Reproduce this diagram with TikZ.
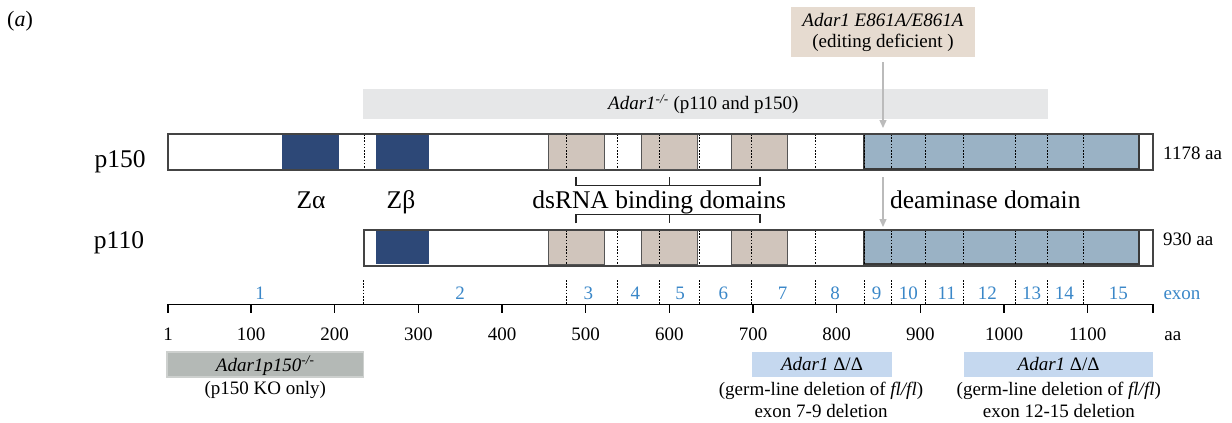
\documentclass[tikz,border=0pt]{standalone}
\usepackage{fontspec}
\setmainfont{Liberation Serif}
\usetikzlibrary{arrows.meta}
\definecolor{zblue}{HTML}{2D4877}
\definecolor{dsfill}{HTML}{D0C5BC}
\definecolor{dsline}{HTML}{555555}
\definecolor{deamfill}{HTML}{9AB2C5}
\definecolor{deamline}{HTML}{3A3A3A}
\definecolor{barline}{HTML}{444444}
\definecolor{topbeige}{HTML}{E6DBD0}
\definecolor{bandgray}{HTML}{E6E7E8}
\definecolor{kogray}{HTML}{B4B9B6}
\definecolor{kograyline}{HTML}{CDD0CE}
\definecolor{delblue}{HTML}{C5D8EF}
\definecolor{exonblue}{HTML}{3A87C8}
\definecolor{arrowgray}{HTML}{BBBBBB}
\tikzset{
  small/.style={font=\fontsize{19}{20.5}\selectfont, inner sep=0pt},
  big/.style={font=\fontsize{25.5}{28}\selectfont, inner sep=0pt},
  exonlab/.style={small, text=exonblue, anchor=base},
  axlab/.style={small, anchor=base},
  dotline/.style={line width=0.9pt, dash pattern=on 1.6pt off 1.6pt},
  barbox/.style={draw=barline, fill=white, line width=1.2pt, inner sep=0pt, minimum height=35pt, anchor=north west},
  annbox/.style={inner sep=0pt, text height=15pt, text depth=2pt, small},
  grayarrow/.style={draw=arrowgray, line width=1.4pt, -{Triangle[width=7pt,length=8pt]}},
  bracket/.style={draw=black!85, line width=1.1pt},
}
\begin{document}
\begin{tikzpicture}[x=1pt,y=-1pt]
\useasboundingbox (0,0) rectangle (1232,423);

% panel label
\node[font=\fontsize{22}{24}\selectfont, inner sep=0pt, anchor=base west] (panel) at (7,26.5) {(\textit{a})};

% KO band
\node[fill=bandgray, inner sep=0pt, minimum width=685pt, minimum height=30pt, anchor=north west] (koband) at (362.7,89) {};
\node[small, anchor=base west] (kotext) at (608,109.3) {\textit{Adar1}\textsuperscript{\textit{-/-}} (p110 and p150)};

% top box
\node[fill=topbeige, small, align=center, minimum width=184pt, minimum height=50pt] (topbox) at (883,32.3)
  {\textit{Adar1 E861A/E861A}\\(editing deficient )};

% bars
\node[barbox, minimum width=984.3pt] (p150bar) at (168,134) {};
\node[barbox, minimum width=788.3pt] (p110bar) at (364,230) {};

\fill[zblue] (282.3,134) rectangle (339,169);
\draw[dotline] (364,134) -- (364,169);
\foreach \t/\b in {134/169, 230/264} {
  \fill[zblue] (376,\t) rectangle (429.3,\b);
  \filldraw[fill=dsfill, draw=dsline, line width=0.8pt] (548.7,\t) rectangle (604.3,\b);
  \filldraw[fill=dsfill, draw=dsline, line width=0.8pt] (641.3,\t) rectangle (697.3,\b);
  \filldraw[fill=dsfill, draw=dsline, line width=0.8pt] (731.3,\t) rectangle (787.7,\b);
  \filldraw[fill=deamfill, draw=deamline, line width=1.2pt] (864,\t) rectangle (1139,\b);
  \foreach \x in {566,617.7,659.7,699.7,751.7,815.7,864,891,925.7,963.3,1015,1047.3,1083.3}
    \draw[dotline] (\x,\t) -- (\x,\b);
}
\draw[draw=barline, line width=1.2pt] (p150bar.north west) rectangle (p150bar.south east);
\draw[draw=barline, line width=1.2pt] (p110bar.north west) rectangle (p110bar.south east);

% arrows
\coordinate (a1e) at (883,128);
\coordinate (a2s) at (883,177);
\coordinate (a2e) at (883,227);
\draw[grayarrow] ([yshift=-4.5pt]topbox.south) -- (a1e);
\draw[grayarrow] (a2s) -- (a2e);

% bar labels
\node[big, anchor=base] (p150lab) at (120,167) {p150};
\node[big, anchor=base] (p110lab) at (119,248) {p110};
\node[small, anchor=base west] (len150) at (1163,159) {1178 aa};
\node[small, anchor=base west] (len110) at (1163,245) {930 aa};

% domain labels
\node[big, anchor=base] (za) at (311,208.3) {Zα};
\node[big, anchor=base] (zb) at (401,208.3) {Zβ};
\node[big, anchor=base] (dslab) at (659.2,208.3) {dsRNA binding domains};
\node[big, anchor=base] (deamlab) at (985.3,208.3) {deaminase domain};

% brackets
\draw[bracket] (576,176.7) -- (576,185.3) -- (760,185.3) -- (760,176.7);
\draw[bracket] (669.3,185.3) -- (669.3,176.7);
\draw[bracket] (576,223.3) -- (576,214.3) -- (760,214.3) -- (760,223.3);
\draw[bracket] (669.3,214.3) -- (669.3,223.3);

% exon separators and labels
\foreach \x in {363,566,617.7,659.7,699.7,751.7,815.7,864,891,925.7,963.3,1015,1047.3,1083.3}
  \draw[dotline] (\x,280) -- (\x,304);
\foreach \x/\n in {260/1,460/2,588.3/3,635.3/4,680/5,723.3/6,782.7/7,835/8,876.7/9,908.3/10,946.7/11,987.3/12,1031.7/13,1064.3/14,1118.3/15}
  \node[exonlab] (ex\n) at (\x,299) {\n};
\node[exonlab] (exonword) at (1182,299) {exon};

% axis
\draw[line width=1.2pt] (168,304.3) -- (1153,304.3);
\foreach \x/\v in {168/1,251/100,334.7/200,418.3/300,502/400,585.7/500,669.4/600,753/700,836.7/800,920.4/900,1004/1000,1087.7/1100} {
  \draw[line width=1.2pt] (\x,304.3) -- (\x,313);
  \node[axlab] (ax\v) at (\x,340.5) {\v};
}
\draw[line width=1.2pt] (1153,304.3) -- (1153,313);
\node[axlab] (aaword) at (1172.8,340.5) {aa};

% bottom annotations
\node[annbox, fill=kogray, draw=kograyline, line width=1.5pt, minimum width=196.8pt, minimum height=24.6pt] (p150ko) at (265.2,364.5)
  {\textit{Adar1p150}\textsuperscript{\textit{-/-}}};
\node[small, anchor=base] (p150kotext) at (265.2,394.5) {(p150 KO only)};

\node[annbox, fill=delblue, minimum width=140.6pt, minimum height=25.3pt] (del79) at (822,364.4)
  {\textit{Adar1} Δ/Δ};
\node[small, anchor=base] (del79a) at (821,395) {(germ-line deletion of \textit{fl/fl})};
\node[small, anchor=base] (del79b) at (821,417.3) {exon 7-9 deletion};

\node[annbox, fill=delblue, minimum width=189.3pt, minimum height=25.3pt] (del1215) at (1058.7,364.4)
  {\textit{Adar1} Δ/Δ};
\node[small, anchor=base] (del1215a) at (1058.8,395) {(germ-line deletion of \textit{fl/fl})};
\node[small, anchor=base] (del1215b) at (1058.8,417.3) {exon 12-15 deletion};
\end{tikzpicture}
\end{document}
